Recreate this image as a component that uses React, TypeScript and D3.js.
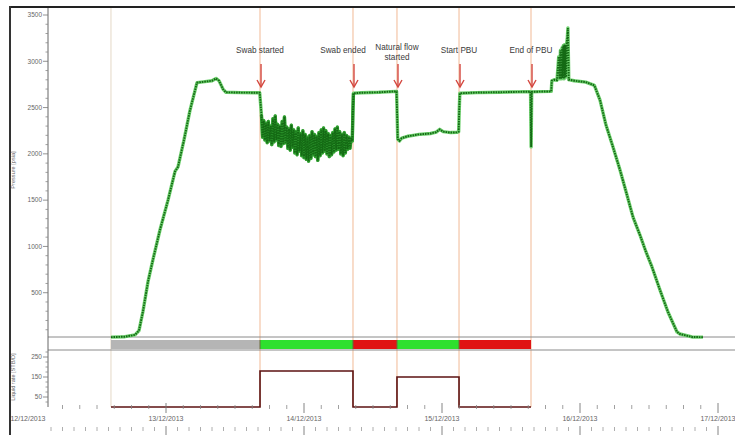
import React from 'react';
import * as d3 from 'd3';

// ---------- data (hours since 12/12/2013 00:00) ----------
const dayLabels = ['12/12/2013', '13/12/2013', '14/12/2013', '15/12/2013', '16/12/2013', '17/12/2013'];

const pressureRunIn: [number, number][] = [
  [14.43, 20], [16.87, 25], [18.61, 45], [19.3, 90], [20.0, 300], [20.87, 620], [21.74, 860],
  [22.96, 1180], [24.35, 1500], [25.57, 1810], [26.09, 1860], [27.13, 2150], [28.17, 2470],
  [29.39, 2770], [30.78, 2780], [32.0, 2790], [32.7, 2815], [33.22, 2790], [33.91, 2700],
  [34.43, 2665], [37.0, 2662], [40.3, 2660],
];

const pressureSwab: [number, number][] = [
  [40.6, 2420], [40.8, 2180], [41.0, 2360], [41.2, 2150], [41.4, 2330], [41.6, 2120], [41.8, 2350],
  [42.0, 2140], [42.2, 2300], [42.4, 2100], [42.6, 2380], [42.8, 2130], [43.0, 2410], [43.2, 2150],
  [43.4, 2320], [43.6, 2090], [43.8, 2300], [44.0, 2080], [44.2, 2350], [44.4, 2110], [44.6, 2400],
  [44.8, 2120], [45.0, 2290], [45.2, 2060], [45.4, 2270], [45.6, 2040], [45.8, 2310], [46.0, 2070],
  [46.2, 2260], [46.4, 2010], [46.6, 2240], [46.8, 1990], [47.0, 2280], [47.2, 2030], [47.4, 2220],
  [47.6, 1980], [47.8, 2250], [48.0, 1960], [48.2, 2210], [48.4, 1940], [48.6, 2180], [48.8, 1920],
  [49.0, 2200], [49.2, 1950], [49.4, 2240], [49.6, 1990], [49.8, 2210], [50.0, 1970], [50.2, 2190],
  [50.4, 1930], [50.6, 2230], [50.8, 1980], [51.0, 2260], [51.2, 2010], [51.4, 2280], [51.6, 2030],
  [51.8, 2250], [52.0, 2000], [52.2, 2220], [52.4, 1970], [52.6, 2200], [52.8, 1990], [53.0, 2230],
  [53.2, 2020], [53.4, 2270], [53.6, 2040], [53.8, 2290], [54.0, 2050], [54.2, 2240], [54.4, 2000],
  [54.6, 2210], [54.8, 1980], [55.0, 2230], [55.2, 2010], [55.4, 2200], [55.6, 2050], [55.8, 2180],
  [56.0, 2060], [56.2, 2170], [56.4, 2140], [56.5, 2450], [56.6, 2655],
];

const pressureFlow: [number, number][] = [
  [58.0, 2660], [61.0, 2665], [64.1, 2675], [64.2, 2420], [64.3, 2160], [64.6, 2140], [65.0, 2170],
  [66.0, 2190], [67.0, 2200], [68.0, 2210], [69.0, 2215], [70.0, 2220], [71.0, 2235], [71.6, 2265],
  [72.2, 2240], [73.5, 2230], [74.6, 2232], [74.9, 2240], [75.0, 2480], [75.1, 2655],
];

const pressurePBU: [number, number][] = [
  [78.0, 2662], [82.0, 2666], [87.4, 2672], [87.5, 2075], [87.6, 2670], [89.0, 2672], [91.0, 2675],
  [91.1, 2790], [91.5, 2800], [92.0, 2795], [92.3, 3050], [92.45, 2810], [92.6, 3120], [92.75, 2810],
  [92.9, 3150], [93.0, 2820], [93.1, 3170], [93.2, 2810], [93.3, 3180], [93.4, 2820], [93.5, 3175],
  [93.6, 2830], [93.7, 3200], [93.8, 3260], [93.9, 3360], [94.05, 2800],
];

const pressurePullOut: [number, number][] = [
  [94.2, 2800], [95.0, 2790], [97.0, 2775], [98.5, 2740], [99.48, 2581], [100.52, 2311],
  [101.74, 2073], [102.96, 1825], [104.17, 1555], [105.22, 1317], [106.43, 1123], [107.48, 940],
  [108.52, 778], [109.91, 529], [111.3, 292], [112.87, 76], [113.39, 54], [115.48, 22], [117.39, 20],
];

const eventHours = [14.43, 40.35, 56.52, 64.17, 74.96, 87.48];
const eventLabels = [[], ['Swab started'], ['Swab ended'], ['Natural flow', 'started'], ['Start PBU'], ['End of PBU']];

const stageStart = [14.43, 40.35, 56.52, 64.17, 74.96];
const stageEnd = [40.35, 56.52, 64.17, 74.96, 87.48];
const stageKinds = ['idle', 'swab', 'shut', 'flow', 'shut'];

const rateHours = [14.43, 40.35, 56.52, 64.17, 74.96, 87.48];
const rateValues = [0, 180, 0, 150, 0, 0];

const pressureTicks = [500, 1000, 1500, 2000, 2500, 3000, 3500];
const rateTicks = [50, 150, 250];

// ---------- helpers ----------
const START = new Date(2013, 11, 12, 0, 0, 0);
const END = new Date(2013, 11, 17, 0, 0, 0);
const toDate = (h: number) => new Date(START.getTime() + h * 3600 * 1000);

const stageColor: Record<string, string> = {
  idle: '#b5b5b5',
  swab: '#2ee02e',
  shut: '#e01414',
  flow: '#2ee02e',
};

export default function App() {
  const W = 735;
  const H = 435;
  const axisX = 48;

  const x = d3.scaleTime().domain([START, END]).range([28, 718]);
  const yP = d3.scaleLinear().domain([0, 3500]).range([339, 15]);
  const yR = d3.scaleLinear().domain([0, 250]).range([407, 357]);

  const pressure = [...pressureRunIn, ...pressureSwab, ...pressureFlow, ...pressurePBU, ...pressurePullOut];
  const pLine = d3
    .line<[number, number]>()
    .x((d) => x(toDate(d[0])))
    .y((d) => yP(d[1]));

  const rateData = rateHours.map((h, i) => [h, rateValues[i]] as [number, number]);
  const rLine = d3
    .line<[number, number]>()
    .x((d) => x(toDate(d[0])))
    .y((d) => yR(d[1]))
    .curve(d3.curveStepAfter);

  const minorP = d3.range(0, 3501, 100).filter((v) => v % 500 !== 0);
  const minorR = d3.range(25, 276, 25).filter((v) => !rateTicks.includes(v));

  const hourTicks = x.ticks(d3.timeHour.every(3)!).filter((d) => d.getHours() !== 0 && x(d) > 50 && x(d) < W);
  const lowTicks = x.ticks(d3.timeHour.every(2)!).filter((d) => d.getHours() !== 0 && x(d) > 50 && x(d) < W);
  const dayTicks = x.ticks(d3.timeDay.every(1)!);

  const font = "'Liberation Sans', Arial, sans-serif";

  return (
    <svg width={W} height={H} style={{ position: 'absolute', left: 0, top: 0, background: '#fff' }}>
      <rect x={0} y={0} width={W} height={H} fill="#fff" />

      {/* event vertical lines */}
      {eventHours.map((h, i) => (
        <line
          key={'ev' + i}
          x1={x(toDate(h))}
          x2={x(toDate(h))}
          y1={8}
          y2={407}
          stroke={i === 0 ? '#e4d8c6' : '#f1b995'}
          strokeWidth={1}
        />
      ))}

      {/* panel separators */}
      <line x1={axisX} x2={W} y1={337} y2={337} stroke="#8a8a8a" strokeWidth={1} />
      <line x1={axisX} x2={W} y1={350} y2={350} stroke="#8a8a8a" strokeWidth={1} />

      {/* stage strip */}
      {stageKinds.map((k, i) => (
        <rect
          key={'st' + i}
          x={x(toDate(stageStart[i]))}
          y={340}
          width={x(toDate(stageEnd[i])) - x(toDate(stageStart[i]))}
          height={9}
          fill={stageColor[k]}
        />
      ))}
      {stageStart.slice(1).map((h, i) => (
        <line key={'sep' + i} x1={x(toDate(h))} x2={x(toDate(h))} y1={340} y2={349} stroke="#6a6a3a" strokeWidth={1} />
      ))}

      {/* pressure series */}
      <path d={pLine(pressure) || ''} fill="none" stroke="#6fd06f" strokeWidth={3.4} strokeLinejoin="round" />
      <path d={pLine(pressureSwab) || ''} fill="none" stroke="#2f9a2f" strokeWidth={3.2} strokeLinejoin="round" />
      <path d={pLine(pressure) || ''} fill="none" stroke="#146a14" strokeWidth={1.9} strokeDasharray="1.6 0.9" />

      {/* rate series */}
      <path d={rLine(rateData) || ''} fill="none" stroke="#5c1212" strokeWidth={1.6} />

      {/* y axis */}
      <line x1={axisX} x2={axisX} y1={8} y2={407} stroke="#666" strokeWidth={1} />
      {minorP.map((v) => (
        <line key={'mp' + v} x1={axisX - 2.5} x2={axisX} y1={yP(v)} y2={yP(v)} stroke="#888" strokeWidth={0.8} />
      ))}
      {pressureTicks.map((v) => (
        <g key={'tp' + v}>
          <line x1={axisX - 5} x2={axisX} y1={yP(v)} y2={yP(v)} stroke="#777" strokeWidth={0.8} />
          <text x={axisX - 6} y={yP(v) + 2.3} fontSize={6.5} fill="#666" textAnchor="end" fontFamily={font}>
            {v}
          </text>
        </g>
      ))}
      {minorR.map((v) => (
        <line key={'mr' + v} x1={axisX - 2.5} x2={axisX} y1={yR(v)} y2={yR(v)} stroke="#888" strokeWidth={0.8} />
      ))}
      {rateTicks.map((v) => (
        <g key={'tr' + v}>
          <line x1={axisX - 5} x2={axisX} y1={yR(v)} y2={yR(v)} stroke="#777" strokeWidth={0.8} />
          <text x={axisX - 6} y={yR(v) + 2.3} fontSize={6.5} fill="#666" textAnchor="end" fontFamily={font}>
            {v}
          </text>
        </g>
      ))}

      {/* y labels */}
      <text
        transform="translate(15,170) rotate(-90)"
        fontSize={5.6}
        fill="#666"
        textAnchor="middle"
        fontFamily={font}
      >
        Pressure [psia]
      </text>
      <text
        transform="translate(15,377) rotate(-90)"
        fontSize={5.6}
        fill="#666"
        textAnchor="middle"
        fontFamily={font}
      >
        Liquid rate [STB/D]
      </text>

      {/* x axis ticks */}
      {hourTicks.map((d, i) => (
        <line key={'ht' + i} x1={x(d)} x2={x(d)} y1={405} y2={409} stroke="#888" strokeWidth={0.8} />
      ))}
      {lowTicks.map((d, i) => (
        <line key={'lt' + i} x1={x(d)} x2={x(d)} y1={427} y2={431} stroke="#999" strokeWidth={0.8} />
      ))}
      {dayTicks.map((d, i) => (
        <g key={'dt' + i}>
          {x(d) > 50 && <line x1={x(d)} x2={x(d)} y1={403} y2={413} stroke="#777" strokeWidth={0.9} />}
          {x(d) > 50 && <line x1={x(d)} x2={x(d)} y1={426} y2={436} stroke="#777" strokeWidth={0.9} />}
          <text x={x(d)} y={420.5} fontSize={7} fill="#666" textAnchor="middle" fontFamily={font}>
            {dayLabels[i]}
          </text>
        </g>
      ))}

      {/* annotations */}
      {eventHours.map((h, i) => {
        const lines = eventLabels[i];
        if (!lines.length) return null;
        const ex = x(toDate(h));
        const lx = i === 2 ? ex - 10 : ex;
        return (
          <g key={'an' + i}>
            {lines.map((t, j) => (
              <text
                key={j}
                x={lx}
                y={(lines.length > 1 ? 50 : 53) + j * 9.5}
                fontSize={8.2}
                fill="#3a3a3a"
                textAnchor="middle"
                fontFamily={font}
              >
                {t}
              </text>
            ))}
            <line x1={ex + 1} x2={ex + 1} y1={64} y2={87} stroke="#d4473f" strokeWidth={1.4} />
            <polyline
              points={`${ex - 3},${80} ${ex + 1},${87} ${ex + 5},${80}`}
              fill="none"
              stroke="#d4473f"
              strokeWidth={1.4}
            />
          </g>
        );
      })}

      {/* outer frame */}
      <line x1={10} x2={W} y1={7} y2={7} stroke="#222" strokeWidth={2} />
      <line x1={10} x2={10} y1={6} y2={H} stroke="#333" strokeWidth={2} />
    </svg>
  );
}
